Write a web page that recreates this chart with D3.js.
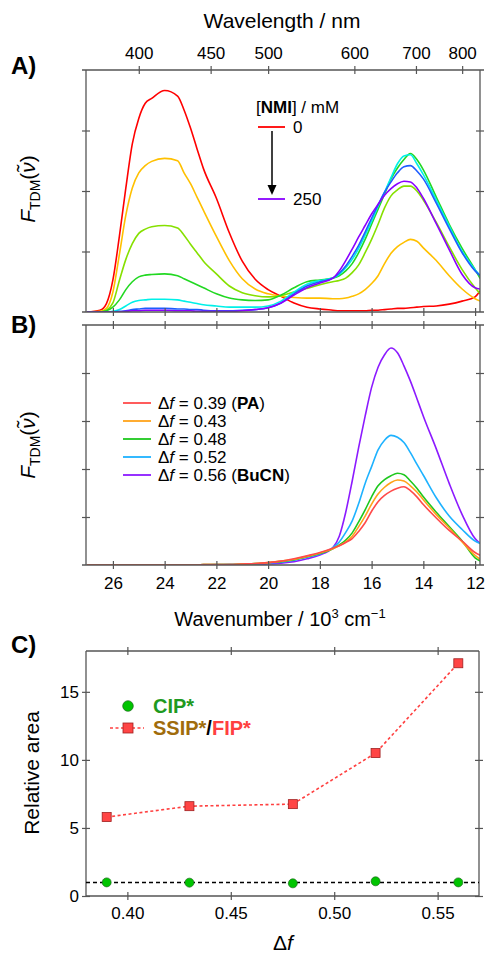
<!DOCTYPE html>
<html><head><meta charset="utf-8">
<script src="https://cdn.jsdelivr.net/npm/d3@7/dist/d3.min.js"></script>
<style>body{margin:0;background:#fff}svg{display:block}</style>
</head><body><svg id="c" width="486" height="953"></svg>
<script>
// ---------------- DATA ----------------
// wavenumber grid (10^3 cm^-1)
const wavenumber = [27, 26.5, 26.25, 26, 25.75, 25.5, 25.25, 25, 24.75, 24.5, 24, 23.5, 23.25, 23, 22.75, 22.5, 22, 21.5, 21, 20.5, 20, 19.5, 19, 18.5, 18, 17.5, 17.25, 17, 16.75, 16.5, 16.25, 16, 15.75, 15.5, 15.25, 15, 14.75, 14.5, 14.25, 14, 13.5, 13, 12.5, 12, 11.8];

// Panel A: [NMI] series from 0 mM to 250 mM
const nmi0 = [0,0.03,0.14,0.53,1.25, 2.05,2.78,3.2,3.45,3.53, 3.66,3.57,3.34,3.04,2.7, 2.37,1.88,1.31,0.84,0.54, 0.37,0.26,0.15,0.08,0.05, 0.03,0.02,0.02,0.02,0.02, 0.02,0.03,0.03,0.04,0.05, 0.06,0.06,0.07,0.08,0.09, 0.1,0.13,0.18,0.25,0.35];
const nmi1 = [0,0.01,0.06,0.33,0.95, 1.6,2.05,2.3,2.42,2.49, 2.54,2.5,2.3,2.12,1.9, 1.68,1.25,0.85,0.55,0.38, 0.3,0.26,0.24,0.23,0.23, 0.22,0.22,0.23,0.26,0.3, 0.37,0.47,0.6,0.8,0.97, 1.08,1.15,1.2,1.17,1.06, 0.85,0.6,0.38,0.22,0.18];
const nmi2 = [0,0,0.03,0.15,0.52, 0.87,1.13,1.3,1.37,1.41, 1.43,1.39,1.27,1.12,0.98, 0.84,0.63,0.43,0.32,0.27, 0.25,0.27,0.33,0.39,0.45, 0.5,0.52,0.56,0.65,0.78, 0.98,1.2,1.45,1.72,1.92, 2.02,2.08,2.08,2.0,1.85, 1.48,1.08,0.7,0.4,0.3];
const nmi3 = [0,0,0.02,0.08,0.2, 0.37,0.5,0.58,0.61,0.62, 0.63,0.6,0.55,0.5,0.45, 0.4,0.3,0.23,0.2,0.19, 0.2,0.28,0.4,0.5,0.53, 0.56,0.6,0.68,0.8,0.98, 1.2,1.45,1.7,1.95,2.2, 2.38,2.52,2.62,2.52,2.35, 1.9,1.45,1.05,0.7,0.55];
const nmi4 = [0,0,0,0.01,0.04, 0.1,0.16,0.19,0.2,0.21, 0.21,0.2,0.18,0.16,0.14, 0.12,0.1,0.08,0.08,0.08, 0.1,0.18,0.33,0.46,0.52, 0.56,0.62,0.73,0.87,1.05, 1.27,1.5,1.75,1.98,2.22, 2.45,2.58,2.6,2.45,2.27, 1.85,1.42,1.0,0.7,0.6];
const nmi5 = [0,0,0,0,0.01, 0.02,0.04,0.05,0.06,0.06, 0.06,0.05,0.05,0.04,0.04, 0.03,0.02,0.02,0.03,0.04, 0.07,0.15,0.3,0.43,0.5, 0.56,0.64,0.76,0.92,1.1, 1.32,1.55,1.77,1.98,2.15, 2.3,2.4,2.42,2.33,2.2, 1.8,1.38,0.98,0.68,0.6];
const nmi6 = [0,0,0,0,0, 0.01,0.02,0.02,0.03,0.03, 0.03,0.02,0.02,0.02,0.01, 0.01,0.01,0.01,0.02,0.04, 0.07,0.15,0.28,0.4,0.48, 0.56,0.68,0.85,1.04,1.24, 1.43,1.62,1.78,1.93,2.04, 2.12,2.16,2.15,2.05,1.88, 1.46,1.03,0.62,0.4,0.38];
const nmiLegend = ["0", "250"];

// Panel B: solvent polarity series
const deltaF = [0.39, 0.43, 0.48, 0.52, 0.56];
const solventName = ["PA", "", "", "", "BuCN"];
const df039 = [0,0,0,0,0, 0,0,0,0,0, 0,0,0,0,0, 0.01,0.01,0.01,0.02,0.03, 0.05,0.08,0.13,0.19,0.26, 0.35,0.4,0.47,0.55,0.7, 0.88,1.12,1.32,1.45,1.54, 1.6,1.63,1.55,1.42,1.26, 0.98,0.72,0.5,0.26,0.2];
const df043 = [0,0,0,0,0, 0,0,0,0,0, 0,0,0,0,0, 0.01,0.01,0.01,0.02,0.03, 0.05,0.08,0.12,0.18,0.25, 0.34,0.4,0.48,0.6,0.8, 1.02,1.27,1.48,1.62,1.72, 1.77,1.75,1.65,1.52,1.36, 1.05,0.77,0.48,0.2,0.12];
const df048 = [0,0,0,0,0, 0,0,0,0,0, 0,0,0,0,0, 0.01,0.01,0.01,0.02,0.03, 0.05,0.07,0.11,0.17,0.24, 0.34,0.42,0.52,0.67,0.9, 1.15,1.42,1.65,1.78,1.86, 1.91,1.88,1.75,1.6,1.42, 1.1,0.8,0.5,0.15,0.08];
const df052 = [0,0,0,0,0, 0,0,0,0,0, 0,0,0,0,0, 0,0.01,0.01,0.01,0.02, 0.04,0.06,0.1,0.16,0.23, 0.36,0.48,0.68,0.92,1.28, 1.7,2.05,2.4,2.6,2.7, 2.66,2.55,2.34,2.1,1.87, 1.4,1.02,0.74,0.5,0.45];
const df056 = [0,0,0,0,0, 0,0,0,0,0, 0,0,0,0,0, 0,0,0.01,0.01,0.01, 0.02,0.04,0.07,0.13,0.21, 0.36,0.6,1.1,1.75,2.45, 3.1,3.7,4.12,4.38,4.52, 4.42,4.15,3.83,3.47,3.1, 2.42,1.7,1.05,0.55,0.45];

// Panel C: relative areas
const cipArea = [1.0, 0.98, 0.93, 1.08, 1.0];
const fipArea = [5.8, 6.6, 6.75, 10.5, 17.1];

// tick labels
const wavelengthTicks = [400, 450, 500, 600, 700, 800];
const wavenumberTicks = [26, 24, 22, 20, 18, 16, 14, 12];
const deltaFTicks = [0.40, 0.45, 0.50, 0.55];
const areaTicks = [0, 5, 10, 15];

// ---------------- STYLE ----------------
const FONT = "'Liberation Sans', Arial, Helvetica, sans-serif";
const AX = "#555";
const colorsA = ["#ff0000", "#ffc000", "#86e000", "#22d822", "#00f0e8", "#1e5cff", "#8a00ff"];
const colorsB = ["#ff4a4a", "#ffa31a", "#1ec81e", "#1eb2ff", "#8c1aff"];

const svg = d3.select("#c").style("font-family", FONT);

const x = d3.scaleLinear().domain([27.04, 11.81]).range([86, 480]);
const yA = d3.scaleLinear().domain([0, 4]).range([312, 70]);
const yB = d3.scaleLinear().domain([0, 5]).range([565, 325]);
const xC = d3.scaleLinear().domain([0.38, 0.57]).range([86, 479]);
const yC = d3.scaleLinear().domain([0, 18]).range([896, 651]);

function hline(x1, x2, y) {
  svg.append("line").attr("x1", x1).attr("x2", x2).attr("y1", y).attr("y2", y)
    .attr("stroke", AX).attr("stroke-width", 1.3);
}
function vline(x0, y1, y2) {
  svg.append("line").attr("x1", x0).attr("x2", x0).attr("y1", y1).attr("y2", y2)
    .attr("stroke", AX).attr("stroke-width", 1.3);
}
function axis(gen, tx, ty, horizontal, fontSize) {
  const g = svg.append("g").attr("transform", `translate(${tx},${ty})`).call(gen);
  g.select(".domain").remove();
  const ln = g.selectAll(".tick line").attr("stroke", AX).attr("stroke-width", 1.2);
  if (horizontal) ln.attr("y1", -4).attr("y2", 4); else ln.attr("x1", -4).attr("x2", 4);
  g.selectAll(".tick text").attr("fill", "#000").style("font-size", (fontSize || 17) + "px")
    .style("font-family", FONT);
  return g;
}

// ---------------- PANEL A ----------------
svg.append("clipPath").attr("id", "clipA").append("rect").attr("x", 86).attr("y", 60).attr("width", 394).attr("height", 252);
svg.append("clipPath").attr("id", "clipB").append("rect").attr("x", 86).attr("y", 325).attr("width", 394).attr("height", 240);

const lineA = d3.line().x((d, i) => x(wavenumber[i])).y(d => yA(d)).curve(d3.curveMonotoneX);
const gA = svg.append("g").attr("clip-path", "url(#clipA)");
[nmi0, nmi1, nmi2, nmi3, nmi4, nmi5, nmi6].forEach((s, k) => {
  gA.append("path").datum(s).attr("d", lineA).attr("fill", "none")
    .attr("stroke", colorsA[k]).attr("stroke-width", 1.6).attr("stroke-linejoin", "round");
});

hline(82, 484, 70); hline(82, 484, 312); vline(86, 70, 312); vline(480, 70, 312);
axis(d3.axisTop(x).tickValues(wavelengthTicks.map(n => 1e4 / n)).tickFormat((d, i) => wavelengthTicks[i]).tickSize(0).tickPadding(11), 0, 70, true);
axis(d3.axisBottom(x).tickValues(wavenumberTicks).tickFormat("").tickSize(0), 0, 312, true);
axis(d3.axisLeft(yA).tickValues([1, 2, 3]).tickFormat("").tickSize(0), 86, 0, false);
axis(d3.axisRight(yA).tickValues([1, 2, 3]).tickFormat("").tickSize(0), 480, 0, false);

svg.append("text").attr("x", 282).attr("y", 28).attr("text-anchor", "middle")
  .style("font-size", "21px").text("Wavelength / nm");

// legend A
const legA = svg.append("text").attr("x", 256).attr("y", 113).style("font-size", "17px");
legA.append("tspan").text("[");
legA.append("tspan").attr("font-weight", "bold").text("NMI");
legA.append("tspan").text("] / mM");
svg.append("line").attr("x1", 258).attr("x2", 285).attr("y1", 127).attr("y2", 127).attr("stroke", colorsA[0]).attr("stroke-width", 1.8);
svg.append("line").attr("x1", 258).attr("x2", 285).attr("y1", 199).attr("y2", 199).attr("stroke", colorsA[6]).attr("stroke-width", 1.8);
svg.append("text").attr("x", 293).attr("y", 133).style("font-size", "17px").text(nmiLegend[0]);
svg.append("text").attr("x", 293).attr("y", 205).style("font-size", "17px").text(nmiLegend[1]);
svg.append("line").attr("x1", 272).attr("x2", 272).attr("y1", 131).attr("y2", 187).attr("stroke", "#000").attr("stroke-width", 1.5);
svg.append("path").attr("d", "M267.5,185 L276.5,185 L272,195 Z").attr("fill", "#000");

// ---------------- PANEL B ----------------
const lineB = d3.line().x((d, i) => x(wavenumber[i])).y(d => yB(d)).curve(d3.curveMonotoneX);
const gB = svg.append("g").attr("clip-path", "url(#clipB)");
const seriesB = [df039, df043, df048, df052, df056];
[4, 3, 2, 1, 0].forEach(k => {
  gB.append("path").datum(seriesB[k]).attr("d", lineB).attr("fill", "none")
    .attr("stroke", colorsB[k]).attr("stroke-width", 1.6).attr("stroke-linejoin", "round");
});

hline(82, 484, 325); hline(82, 484, 565); vline(86, 325, 565); vline(480, 325, 565);
axis(d3.axisTop(x).tickValues(wavenumberTicks).tickFormat("").tickSize(0), 0, 325, true);
axis(d3.axisBottom(x).tickValues(wavenumberTicks).tickFormat(d3.format("d")).tickSize(0).tickPadding(12), 0, 565, true);
axis(d3.axisLeft(yB).tickValues([1, 2, 3, 4]).tickFormat("").tickSize(0), 86, 0, false);
axis(d3.axisRight(yB).tickValues([1, 2, 3, 4]).tickFormat("").tickSize(0), 480, 0, false);

const xt = svg.append("text").attr("x", 280).attr("y", 626).attr("text-anchor", "middle").style("font-size", "20px");
xt.append("tspan").text("Wavenumber / 10");
xt.append("tspan").attr("dy", -8).style("font-size", "13px").text("3");
xt.append("tspan").attr("dy", 8).text(" cm");
xt.append("tspan").attr("dy", -8).style("font-size", "13px").text("\u22121");

// legend B
deltaF.forEach((v, k) => {
  const yy = 403 + k * 18;
  svg.append("line").attr("x1", 123).attr("x2", 151).attr("y1", yy).attr("y2", yy)
    .attr("stroke", colorsB[k]).attr("stroke-width", 1.8);
  const t = svg.append("text").attr("x", 158).attr("y", yy + 6).style("font-size", "17px");
  t.append("tspan").text("\u0394");
  t.append("tspan").attr("font-style", "italic").text("f");
  t.append("tspan").text(" = " + v.toFixed(2));
  if (solventName[k]) {
    t.append("tspan").text(" (");
    t.append("tspan").attr("font-weight", "bold").text(solventName[k]);
    t.append("tspan").text(")");
  }
});

// y labels A & B
function fLabel(cy) {
  const t = svg.append("text").attr("transform", `translate(35,${cy}) rotate(-90)`)
    .attr("text-anchor", "middle").style("font-size", "21px");
  t.append("tspan").attr("font-style", "italic").text("F");
  t.append("tspan").attr("dy", 5).style("font-size", "14px").text("TDM");
  t.append("tspan").attr("dy", -5).text("(");
  t.append("tspan").attr("font-style", "italic").text("\u03BD\u0303");
  t.append("tspan").text(")");
}
fLabel(189);
fLabel(445);

// ---------------- PANEL C ----------------
hline(86, 479, 651); hline(86, 479, 896); vline(86, 651, 896); vline(479, 651, 896);
axis(d3.axisBottom(xC).tickValues(deltaFTicks).tickFormat(d3.format(".2f")).tickSize(0).tickPadding(11), 0, 896, true);
axis(d3.axisTop(xC).tickValues(deltaFTicks).tickFormat("").tickSize(0), 0, 651, true);
axis(d3.axisLeft(yC).tickValues(areaTicks).tickFormat(d3.format("d")).tickSize(0).tickPadding(7), 86, 0, false);
axis(d3.axisRight(yC).tickValues(areaTicks).tickFormat("").tickSize(0), 479, 0, false);

svg.append("line").attr("x1", 86).attr("x2", 479).attr("y1", yC(1)).attr("y2", yC(1))
  .attr("stroke", "#000").attr("stroke-width", 1.5).attr("stroke-dasharray", "4,3");

const lineC = d3.line().x((d, i) => xC(deltaF[i])).y(d => yC(d));
svg.append("path").datum(fipArea).attr("d", lineC).attr("fill", "none")
  .attr("stroke", "#ff4040").attr("stroke-width", 1.6).attr("stroke-dasharray", "3,2.5");

svg.selectAll(".sq").data(fipArea).enter().append("rect")
  .attr("x", (d, i) => xC(deltaF[i]) - 4.5).attr("y", d => yC(d) - 4.5)
  .attr("width", 9).attr("height", 9).attr("fill", "#ff4545").attr("stroke", "#a02020").attr("stroke-width", 0.8);
svg.selectAll(".ci").data(cipArea).enter().append("circle")
  .attr("cx", (d, i) => xC(deltaF[i])).attr("cy", d => yC(d)).attr("r", 4.5)
  .attr("fill", "#00c400").attr("stroke", "#1f6a1f").attr("stroke-width", 0.7);

// legend C
svg.append("circle").attr("cx", 128).attr("cy", 706).attr("r", 5.3).attr("fill", "#00c400").attr("stroke", "#1f6a1f").attr("stroke-width", 0.7);
svg.append("text").attr("x", 153).attr("y", 713).attr("font-weight", "bold").style("font-size", "20px").attr("fill", "#1f9a1f").text("CIP*");
svg.append("line").attr("x1", 110).attr("x2", 144).attr("y1", 728).attr("y2", 728).attr("stroke", "#ff4040").attr("stroke-width", 1.6).attr("stroke-dasharray", "3,2.5");
svg.append("rect").attr("x", 123).attr("y", 723).attr("width", 10).attr("height", 10).attr("fill", "#ff4545").attr("stroke", "#a02020").attr("stroke-width", 0.8);
const lc = svg.append("text").attr("x", 153).attr("y", 735).attr("font-weight", "bold").style("font-size", "20px");
lc.append("tspan").attr("fill", "#a06c0c").text("SSIP*");
lc.append("tspan").attr("fill", "#000").text("/");
lc.append("tspan").attr("fill", "#ff4040").text("FIP*");

svg.append("text").attr("transform", "translate(39,773) rotate(-90)").attr("text-anchor", "middle")
  .style("font-size", "21px").text("Relative area");
const dfl = svg.append("text").attr("x", 283).attr("y", 950).attr("text-anchor", "middle").style("font-size", "21px");
dfl.append("tspan").text("\u0394");
dfl.append("tspan").attr("font-style", "italic").text("f");

// panel letters
[["A)", 74], ["B)", 333], ["C)", 653]].forEach(([s, yy]) => {
  svg.append("text").attr("x", 11).attr("y", yy).attr("font-weight", "bold").style("font-size", "24px").text(s);
});
</script></body></html>
